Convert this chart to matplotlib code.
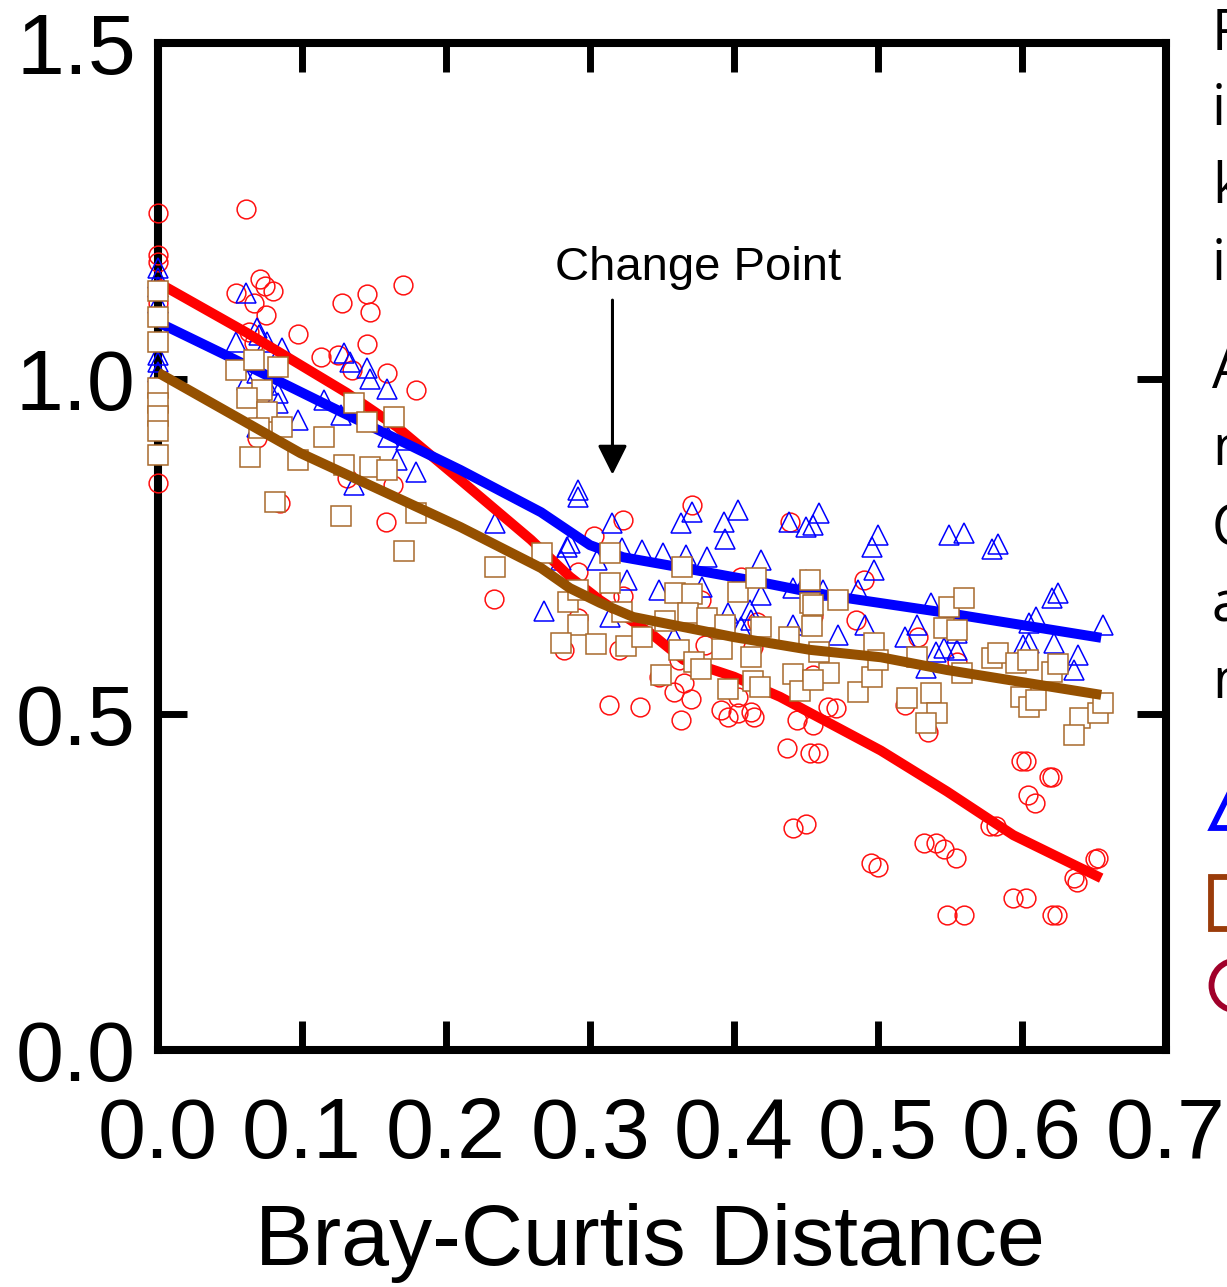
import matplotlib
matplotlib.use("Agg")
import matplotlib.pyplot as plt
from matplotlib.lines import Line2D

# ---------------- data ----------------
circle_x = [0.0, 0.0, 0.0, 0.0, 0.0, 0.0, 0.061, 0.054, 0.067, 0.071, 0.074, 0.080, 0.075, 0.097, 0.063, 0.067,
            0.113, 0.125, 0.135, 0.128, 0.145, 0.147, 0.145, 0.170, 0.159, 0.179, 0.069, 0.131, 0.163, 0.085, 0.158,
            0.233, 0.371, 0.323, 0.303, 0.292, 0.323, 0.313, 0.292, 0.282, 0.320, 0.380, 0.413, 0.362, 0.348, 0.365,
            0.358, 0.370, 0.313, 0.335, 0.391, 0.396, 0.403, 0.412, 0.414, 0.363, 0.444, 0.437, 0.453, 0.439, 0.405,
            0.377, 0.416, 0.403,
            0.490, 0.485, 0.455, 0.528, 0.555, 0.455, 0.465, 0.471, 0.455, 0.458, 0.519, 0.535, 0.599, 0.603, 0.619,
            0.621, 0.604, 0.609, 0.441, 0.450, 0.495, 0.500, 0.532, 0.540, 0.546, 0.554, 0.578, 0.582, 0.653, 0.651,
            0.636, 0.638, 0.594, 0.603, 0.548, 0.560, 0.621, 0.624]
circle_y = [1.247, 1.184, 1.174, 1.132, 1.113, 0.845, 1.253, 1.128, 1.113, 1.149, 1.138, 1.131, 1.095, 1.067, 1.070, 1.053,
            1.032, 1.035, 1.013, 1.113, 1.126, 1.099, 1.052, 1.140, 1.009, 0.983, 0.912, 0.852, 0.842, 0.815, 0.787,
            0.672, 0.812, 0.790, 0.766, 0.712, 0.676, 0.675, 0.644, 0.596, 0.596, 0.603, 0.600, 0.581, 0.556, 0.547,
            0.533, 0.523, 0.514, 0.511, 0.507, 0.496, 0.502, 0.504, 0.496, 0.492, 0.492, 0.450, 0.442, 0.787, 0.705,
            0.670, 0.638, 0.526,
            0.700, 0.641, 0.647, 0.615, 0.578, 0.559, 0.511, 0.509, 0.484, 0.442, 0.514, 0.474, 0.431, 0.431, 0.407,
            0.407, 0.380, 0.368, 0.331, 0.337, 0.279, 0.273, 0.308, 0.308, 0.299, 0.286, 0.334, 0.334, 0.286, 0.285,
            0.256, 0.250, 0.226, 0.226, 0.201, 0.201, 0.201, 0.201]

tri_x = [0.0, 0.0, 0.0, 0.0, 0.0, 0.0, 0.0,
         0.061, 0.069, 0.070, 0.054, 0.076, 0.086, 0.069, 0.062, 0.076, 0.083,
         0.083, 0.069, 0.097, 0.115, 0.129, 0.133, 0.145, 0.147, 0.127, 0.159,
         0.160, 0.166, 0.179, 0.136, 0.172,
         0.234, 0.292, 0.292, 0.315, 0.286, 0.284, 0.280, 0.305, 0.322, 0.326,
         0.336, 0.351, 0.363, 0.371, 0.367, 0.381, 0.393, 0.394, 0.403, 0.419,
         0.348, 0.378, 0.419, 0.268, 0.314, 0.411, 0.412, 0.405, 0.396, 0.358,
         0.438, 0.441, 0.450, 0.450,
         0.455, 0.459, 0.496, 0.500, 0.497, 0.486, 0.451, 0.462, 0.441, 0.491,
         0.472, 0.537, 0.527, 0.519, 0.533, 0.540, 0.546, 0.555, 0.555, 0.549,
         0.560, 0.579, 0.583, 0.621, 0.625, 0.610, 0.605, 0.601, 0.605, 0.622,
         0.639, 0.636, 0.656]
tri_y = [1.165, 1.150, 1.137, 1.113, 1.035, 1.025, 1.010,
         1.128, 1.076, 1.065, 1.055, 1.055, 1.046, 1.009, 0.998, 0.991, 0.979,
         0.964, 0.928, 0.939, 0.968, 1.038, 1.025, 1.016, 1.000, 0.946, 0.985,
         0.913, 0.879, 0.861, 0.842, 0.909,
         0.785, 0.834, 0.824, 0.785, 0.755, 0.749, 0.730, 0.730, 0.748, 0.700,
         0.745, 0.740, 0.785, 0.801, 0.737, 0.734, 0.787, 0.761, 0.804, 0.730,
         0.685, 0.690, 0.678, 0.654, 0.645, 0.655, 0.641, 0.630, 0.651, 0.615,
         0.787, 0.688, 0.779, 0.700,
         0.782, 0.800, 0.749, 0.767, 0.715, 0.685, 0.696, 0.685, 0.633, 0.633,
         0.618, 0.666, 0.633, 0.615, 0.569, 0.593, 0.599, 0.596, 0.621, 0.767,
         0.770, 0.746, 0.754, 0.673, 0.681, 0.645, 0.636, 0.603, 0.606, 0.606,
         0.588, 0.566, 0.633]

sq_x = [0.0, 0.0, 0.0, 0.0, 0.0, 0.0, 0.0, 0.0,
        0.054, 0.067, 0.083, 0.072, 0.062, 0.076, 0.070, 0.086, 0.115, 0.064,
        0.097, 0.136, 0.145, 0.164, 0.129, 0.147, 0.159, 0.179, 0.081, 0.127,
        0.171,
        0.234, 0.267, 0.314, 0.364, 0.285, 0.292, 0.314, 0.322, 0.292, 0.280,
        0.304, 0.325, 0.336, 0.352, 0.359, 0.371, 0.368, 0.381, 0.394, 0.403,
        0.415, 0.419, 0.362, 0.372, 0.377, 0.349, 0.392, 0.412, 0.396, 0.413,
        0.418, 0.438, 0.441, 0.446, 0.453, 0.453,
        0.472, 0.455, 0.454, 0.459, 0.466, 0.455, 0.486, 0.496, 0.497, 0.500,
        0.520, 0.527, 0.537, 0.541, 0.533, 0.549, 0.560, 0.546, 0.555, 0.558,
        0.579, 0.583, 0.596, 0.604, 0.621, 0.625, 0.599, 0.605, 0.610, 0.640,
        0.636, 0.653, 0.656]
sq_y = [1.130, 1.092, 1.055, 0.986, 0.964, 0.945, 0.922, 0.886,
        1.013, 1.028, 1.017, 0.983, 0.971, 0.950, 0.927, 0.928, 0.913, 0.883,
        0.879, 0.964, 0.936, 0.943, 0.871, 0.868, 0.864, 0.800, 0.816, 0.796,
        0.743,
        0.720, 0.740, 0.740, 0.720, 0.667, 0.685, 0.696, 0.652, 0.633, 0.606,
        0.605, 0.602, 0.615, 0.639, 0.681, 0.679, 0.651, 0.644, 0.633, 0.682,
        0.703, 0.630, 0.596, 0.578, 0.568, 0.559, 0.597, 0.585, 0.538, 0.550,
        0.541, 0.615, 0.560, 0.535, 0.666, 0.700,
        0.670, 0.663, 0.632, 0.593, 0.562, 0.551, 0.533, 0.556, 0.606, 0.581,
        0.524, 0.585, 0.532, 0.502, 0.487, 0.660, 0.673, 0.629, 0.626, 0.562,
        0.584, 0.591, 0.576, 0.581, 0.563, 0.575, 0.526, 0.511, 0.521, 0.495,
        0.469, 0.502, 0.517]

red_x = [0.0, 0.062, 0.131, 0.166, 0.210, 0.259, 0.286, 0.307, 0.342, 0.365, 0.400, 0.432, 0.453, 0.502, 0.548, 0.594, 0.655]
red_y = [1.143, 1.068, 0.979, 0.928, 0.849, 0.760, 0.705, 0.670, 0.621, 0.581, 0.556, 0.526, 0.502, 0.446, 0.385, 0.320, 0.256]

blue_x = [0.0, 0.050, 0.120, 0.210, 0.266, 0.284, 0.300, 0.323, 0.365, 0.411, 0.453, 0.479, 0.548, 0.655]
blue_y = [1.084, 1.032, 0.958, 0.864, 0.801, 0.775, 0.752, 0.734, 0.718, 0.700, 0.682, 0.673, 0.651, 0.614]

brown_x = [0.0, 0.099, 0.210, 0.266, 0.286, 0.307, 0.330, 0.365, 0.400, 0.453, 0.502, 0.548, 0.655]
brown_y = [1.009, 0.889, 0.779, 0.718, 0.688, 0.666, 0.645, 0.630, 0.615, 0.596, 0.585, 0.566, 0.529]

x_ticks = [0.0, 0.1, 0.2, 0.3, 0.4, 0.5, 0.6, 0.7]
x_ticklabels = ["0.0", "0.1", "0.2", "0.3", "0.4", "0.5", "0.6", "0.7"]
y_ticks = [0.0, 0.5, 1.0, 1.5]
y_ticklabels = ["0.0", "0.5", "1.0", "1.5"]

side_lines = ["F", "in", "k", "in", "A", "n", "C", "a", "n"]

# ---------------- figure ----------------
W, H = 1227, 1287
fig = plt.figure(figsize=(W / 100, H / 100), dpi=100)
ax = fig.add_axes([158 / W, 1 - 1050 / H, (1166 - 158) / W, (1050 - 43) / H])

FONT = ["Liberation Sans", "DejaVu Sans"]

ax.plot(circle_x, circle_y, linestyle="none", marker="o", markersize=13.5, markerfacecolor="none",
        markeredgecolor="#ff1010", markeredgewidth=1.1, zorder=3.0, clip_on=False)
ax.plot(tri_x, tri_y, linestyle="none", marker="^", markersize=15, markerfacecolor="none",
        markeredgecolor="#0000ff", markeredgewidth=1.1, zorder=3.1, clip_on=False)
ax.plot(red_x, red_y, color="#ff0000", linewidth=7.2, zorder=3.2, solid_capstyle="butt")
ax.plot(blue_x, blue_y, color="#0000ff", linewidth=7.2, zorder=3.3, solid_capstyle="butt")
ax.plot(sq_x, sq_y, linestyle="none", marker="s", markersize=15, markerfacecolor="white",
        markeredgecolor="#a86a2c", markeredgewidth=1.1, zorder=3.4, clip_on=False)
ax.plot(brown_x, brown_y, color="#955000", linewidth=7.2, zorder=3.5, solid_capstyle="butt")

ax.set_xlim(0, 0.7)
ax.set_ylim(0, 1.5)
ax.set_xticks(x_ticks)
ax.set_xticklabels(x_ticklabels, fontfamily=FONT, fontsize=62)
ax.set_yticks(y_ticks)
ax.set_yticklabels(y_ticklabels, fontfamily=FONT, fontsize=62)

for s in ax.spines.values():
    s.set_linewidth(5.8)
ax.tick_params(axis="both", which="major", direction="in", length=21, width=5.0,
               top=True, right=True, color="black")
ax.tick_params(axis="x", pad=33)
ax.tick_params(axis="y", pad=16)

ax.set_xlabel("Bray-Curtis Distance", fontfamily=FONT, fontsize=62)
ax.xaxis.set_label_coords((650 - 158) / 1008, (1050 - 1203) / 1007)
ax.xaxis.label.set_verticalalignment("top")

# Change point annotation
ax.text(0.3747, 1.147, "Change Point", fontfamily=FONT, fontsize=34, ha="center", va="baseline")
ax.annotate("", xy=(0.3156, 0.857), xytext=(0.3156, 1.117),
            arrowprops=dict(arrowstyle="-|>,head_length=0.9,head_width=0.45", lw=2.2,
                            color="black", shrinkA=0, shrinkB=0, mutation_scale=20))

# clipped side text (caption running off the right edge)
baselines = [50, 125, 203, 280, 388, 465, 545, 622, 698]
for txt, b in zip(side_lines, baselines):
    fig.text(1212 / W, 1 - b / H, txt, fontfamily=["Open Sans", "DejaVu Sans"], fontsize=40,
             ha="left", va="baseline", color="black")

# clipped legend symbols at right edge
leg = [("^", "#0000ff", 34, 1236, 804),
       ("s", "#9a3c0a", 37, 1237, 903),
       ("o", "#a0002a", 36, 1236, 985)]
for m, c, ms, px, py in leg:
    fig.add_artist(Line2D([px / W], [1 - py / H], transform=fig.transFigure, marker=m,
                          markersize=ms, markerfacecolor="none", markeredgecolor=c,
                          markeredgewidth=4.2, linestyle="none"))

fig.savefig("out.png", dpi=100)
